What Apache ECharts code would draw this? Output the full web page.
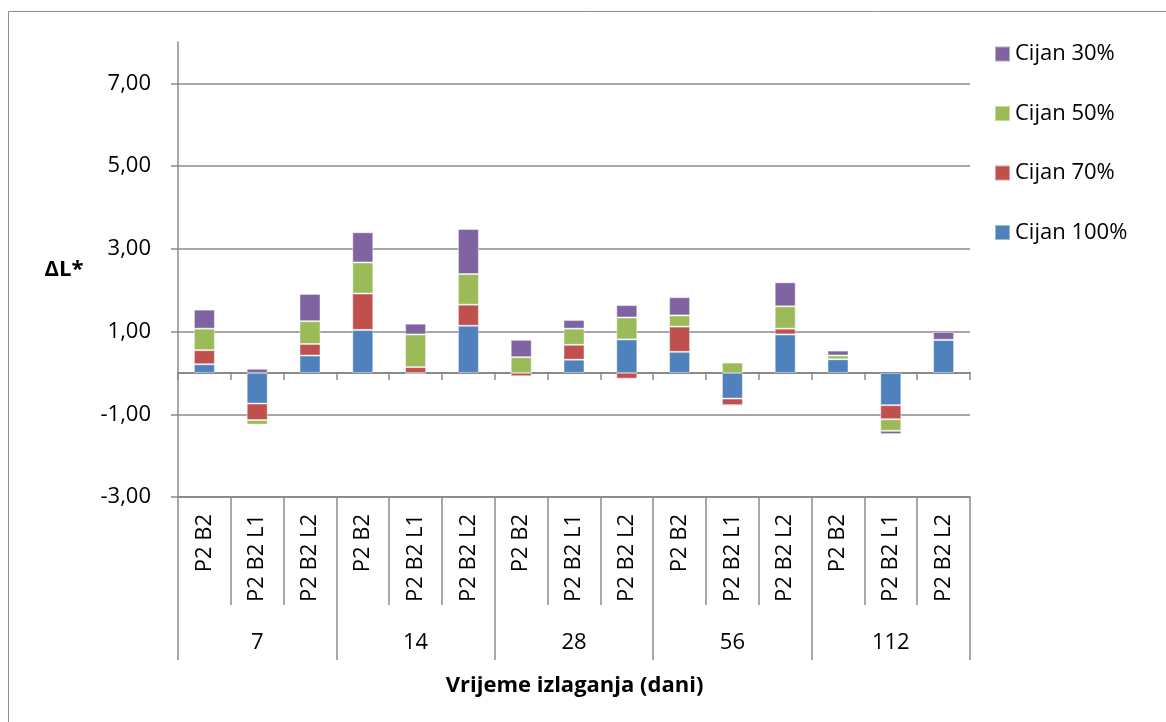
<!DOCTYPE html>
<html><head><meta charset="utf-8">
<script src="https://cdn.jsdelivr.net/npm/echarts@6/dist/echarts.min.js"></script>
<style>html,body{margin:0;padding:0;background:#fff}#c{width:1166px;height:722px}</style>
</head><body><div id="c"></div>
<script>
const categories = ['P2 B2','P2 B2 L1','P2 B2 L2','P2 B2','P2 B2 L1','P2 B2 L2','P2 B2','P2 B2 L1','P2 B2 L2','P2 B2','P2 B2 L1','P2 B2 L2','P2 B2','P2 B2 L1','P2 B2 L2'];
const groups = ['7','14','28','56','112'];
const cijan100 = [0.21,-0.74,0.42,1.04,-0.04,1.14,0.00,0.32,0.81,0.51,-0.62,0.93,0.33,-0.78,0.80];
const cijan70  = [0.34,-0.40,0.28,0.88,0.14,0.51,-0.08,0.36,-0.14,0.61,-0.16,0.14,0.00,-0.34,0.00];
const cijan50  = [0.52,-0.11,0.55,0.75,0.79,0.74,0.38,0.39,0.53,0.27,0.25,0.54,0.09,-0.28,0.00];
const cijan30  = [0.46,0.10,0.66,0.73,0.26,1.09,0.42,0.21,0.30,0.44,-0.03,0.58,0.12,-0.08,0.19];
const yTicks = [-3,-1,1,3,5,7];

const FONT = '"Open Sans"';
const FS = 22;
const AX = '#8a8a8a';
const chart = echarts.init(document.getElementById('c'));
const mk = (name, data, color) => ({
  name, type:'bar', stack:'s', data, barWidth:21,
  xAxisIndex:0, yAxisIndex:0,
  itemStyle:{color, borderColor:'rgba(255,255,255,0.45)', borderWidth:1}
});
chart.setOption({
  animation:false,
  textStyle:{fontFamily:FONT},
  grid:{left:178, right:196, top:42, bottom:225},
  legend:{
    orient:'vertical', left:989, top:38, itemWidth:15, itemHeight:15, itemGap:37.5,
    icon:'rect',
    data:['Cijan 30%','Cijan 50%','Cijan 70%','Cijan 100%'],
    textStyle:{fontFamily:FONT, fontSize:FS, color:'#000'}
  },
  graphic:[
    {type:'rect', shape:{x:8.5,y:11.5,width:1200,height:800}, style:{fill:'none', stroke:'#8c8c8c', lineWidth:1}, silent:true},
    {type:'text', x:574.5, y:686, style:{text:'Vrijeme izlaganja (dani)', font:'bold '+FS+'px '+FONT, fill:'#000', align:'center', verticalAlign:'middle'}, z:10},
    {type:'text', x:64, y:270, style:{text:'ΔL*', font:'bold '+FS+'px '+FONT, fill:'#000', align:'center', verticalAlign:'middle'}, z:10}
  ],
  xAxis:[
    {type:'category', data:categories, position:'bottom',
     axisLine:{onZero:false, lineStyle:{color:AX, width:1.5}},
     axisTick:{show:true, interval:0, length:108, lineStyle:{color:AX, width:1.5}},
     axisLabel:{interval:0, rotate:90, margin:17, fontSize:FS, color:'#000', fontFamily:FONT}
    },
    {type:'category', data:groups, position:'bottom', gridIndex:0,
     axisLine:{onZero:false, lineStyle:{color:AX, width:1.5}},
     axisTick:{show:true, interval:0, length:163, lineStyle:{color:AX, width:1.5}},
     axisLabel:{interval:0, margin:135, fontSize:FS, color:'#000', fontFamily:FONT}
    },
    {type:'category', data:categories, position:'bottom', gridIndex:0,
     axisLine:{onZero:true, lineStyle:{color:AX, width:2}},
     axisTick:{show:true, interval:0, length:7, lineStyle:{color:AX, width:1.5}},
     axisLabel:{show:false}
    }
  ],
  yAxis:[{
    type:'value', min:-3, max:8, interval:2,
    axisLine:{show:true, lineStyle:{color:AX, width:1.5}},
    axisTick:{show:true, length:7, lineStyle:{color:AX, width:1.5}},
    axisLabel:{margin:27, fontSize:FS, color:'#000', fontFamily:FONT, showMaxLabel:false,
      formatter:v => yTicks.includes(v) ? v.toFixed(2).replace('.',',') : ''},
    splitLine:{show:true, showMaxLine:false, lineStyle:{color:AX, width:1.5}}
  }],
  series:[
    mk('Cijan 100%', cijan100, '#4F81BD'),
    mk('Cijan 70%', cijan70, '#C0504D'),
    mk('Cijan 50%', cijan50, '#9BBB59'),
    mk('Cijan 30%', cijan30, '#8064A2')
  ]
});
</script></body></html>
